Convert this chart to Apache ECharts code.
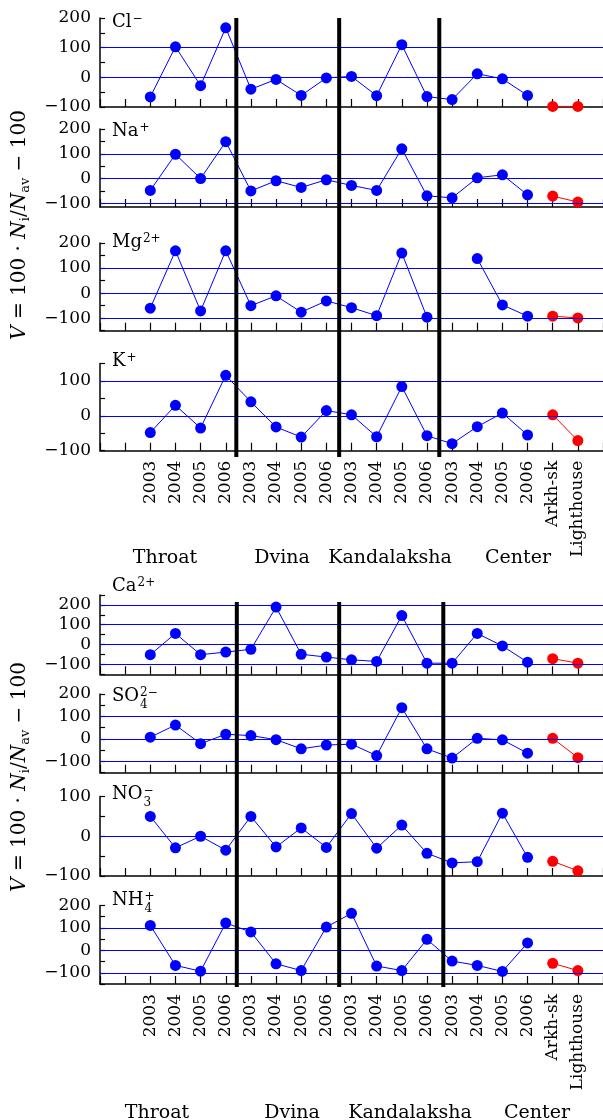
<!DOCTYPE html>
<html><head><meta charset="utf-8">
<script src="https://cdn.jsdelivr.net/npm/echarts@6/dist/echarts.min.js"></script>
<style>html,body{margin:0;padding:0;background:#fff}#c{width:603px;height:1120px}</style>
</head><body><div id="c"></div>
<script>
// ---------- data ----------
const categories = ['2003','2004','2005','2006','2003','2004','2005','2006','2003','2004','2005','2006','2003','2004','2005','2006','Arkh-sk','Lighthouse'];
const regionNames = ['Throat','Dvina','Kandalaksha','Center'];
const clValues  = [-66,103,-28,167,-40,-7,-61,-2,3,-62,110,-65,-75,12,-5,-61,-98,-98];
const naValues  = [-48,98,0,149,-50,-9,-36,-5,-28,-48,120,-70,-78,3,15,-66,-71,-95];
const mgValues  = [-60,169,-71,169,-50,-11,-76,-31,-58,-90,160,-96,null,138,-47,-92,-92,-99];
const kValues   = [-48,30,-35,116,40,-32,-61,15,3,-60,84,-57,-80,-31,8,-55,3,-71];
const caValues  = [-51,56,-51,-38,-24,189,-49,-63,-77,-85,146,-94,-94,56,-7,-89,-71,-94];
const so4Values = [8,62,-21,21,15,-3,-44,-27,-23,-74,139,-44,-85,3,-4,-63,3,-83];
const no3Values = [50,-29,0,-35,50,-27,21,-28,57,-30,28,-43,-67,-64,58,-53,-63,-87];
const nh4Values = [111,-67,-93,122,82,-60,-90,104,165,-70,-90,49,-48,-67,-94,33,-58,-90];
const ionBase = ['Cl','Na','Mg','K','Ca','SO','NO','NH'];
const ionSup  = ['\u2212','+','2+','+','2+','2\u2212','\u2212','+'];
const ionSub  = ['','','','','','4','3','4'];
const yMin = [-100,-115,-150,-100,-150,-150,-100,-150];
const yMax = [200,200,200,150,250,200,100,200];
const separatorsTop = [3.42, 7.51, 11.49];
const separatorsBottom = [3.44, 7.51, 11.65];

// ---------- layout ----------
const FONT = 'DejaVu Serif';
const panelTop    = [18,129,243,363.5,595,694,796.5,905.5];
const panelBottom = [107,207,330.7,450.7,674.3,772.7,876,984];
const titleBaseline = [29,138,249,368,593,703,801,907];
const groupTop = [18,602], groupBottom = [457,987];
const groupLabelY = [558,1113];
const groupLabelX = [[165,282,390,518],[157,292,410,537]];
const yTitleCenter = [225,777];
const BLUE = '#0000ff', RED = '#ff0000';

const allValues = [clValues,naValues,mgValues,kValues,caValues,so4Values,no3Values,nh4Values];
const nBlue = 16;
const fmtNum = v => v < 0 ? '\u2212' + Math.abs(v) : String(v);
const multiples = (lo, hi, step) => { const r=[]; for (let v=Math.ceil(lo/step)*step; v<=hi; v+=step) r.push(v); return r; };

const grids=[], xAxes=[], yAxes=[], series=[], graphic=[];
const ctx = document.createElement('canvas').getContext('2d');

allValues.forEach((vals, p) => {
  grids.push({left:100, right:0, top:panelTop[p], height:panelBottom[p]-panelTop[p]});
  const bottomPanel = (p === 3 || p === 7);
  xAxes.push({
    type:'value', gridIndex:p, min:-2, max:18, interval:1,
    axisLine:{show:true, onZero:false, lineStyle:{color:'#000', width:1.5}},
    axisTick:{show:true, inside:true, length:8, lineStyle:{color:'#000', width:1.2}},
    splitLine:{show:false},
    axisLabel:{show:bottomPanel, rotate:90, margin:10, fontFamily:FONT, fontSize:17, color:'#000',
      formatter: v => (Number.isInteger(v) && v>=0 && v<categories.length) ? categories[v] : ''}
  });
  yAxes.push({
    type:'value', gridIndex:p, min:yMin[p], max:yMax[p],
    axisLine:{show:true, onZero:false, lineStyle:{color:'#000', width:1.5}},
    axisTick:{show:true, inside:true, length:5, lineStyle:{color:'#000', width:1.2},
      customValues: multiples(yMin[p], yMax[p], 50)},
    splitLine:{show:false},
    axisLabel:{margin:9, fontFamily:FONT, fontSize:17, color:'#000',
      customValues: multiples(yMin[p], yMax[p], 100), formatter: v => fmtNum(v)}
  });
  const gridVals = multiples(yMin[p], yMax[p], 100).filter(v => v > yMin[p] && v < yMax[p]);
  series.push({
    type:'line', xAxisIndex:p, yAxisIndex:p, z:2,
    data: vals.slice(0,nBlue).map((v,i)=>[i, v===null ? '-' : v]),
    connectNulls:false, symbol:'circle', symbolSize:11, showSymbol:true,
    itemStyle:{color:BLUE}, lineStyle:{color:BLUE, width:1},
    markLine:{silent:true, symbol:['none','none'], label:{show:false},
      lineStyle:{color:BLUE, width:1, type:'solid'},
      data: gridVals.map(v=>({yAxis:v}))}
  });
  series.push({
    type:'line', xAxisIndex:p, yAxisIndex:p, z:3,
    data: vals.slice(nBlue).map((v,i)=>[nBlue+i, v]),
    symbol:'circle', symbolSize:11, showSymbol:true,
    itemStyle:{color:RED}, lineStyle:{color:RED, width:1}
  });
  // panel title
  const fsMain = 18, fsSmall = 12;
  ctx.font = fsMain + 'px "' + FONT + '"';
  const w = ctx.measureText(ionBase[p]).width;
  const bl = titleBaseline[p];
  graphic.push({type:'text', x:112, y:bl-0.346*fsMain, style:{text:ionBase[p], font:fsMain+'px "'+FONT+'"', fill:'#000', verticalAlign:'middle', align:'left'}});
  if (ionSup[p]) graphic.push({type:'text', x:112+w+1, y:bl-10.5, style:{text:ionSup[p], font:fsSmall+'px "'+FONT+'"', fill:'#000', verticalAlign:'middle', align:'left'}});
  if (ionSub[p]) graphic.push({type:'text', x:112+w+1, y:bl+1.5, style:{text:ionSub[p], font:fsSmall+'px "'+FONT+'"', fill:'#000', verticalAlign:'middle', align:'left'}});
});

// separator overlays
[separatorsTop, separatorsBottom].forEach((seps, g) => {
  const gi = grids.length;
  grids.push({left:100, right:0, top:groupTop[g], height:groupBottom[g]-groupTop[g]});
  xAxes.push({type:'value', gridIndex:gi, min:-2, max:18, show:false});
  yAxes.push({type:'value', gridIndex:gi, min:0, max:1, show:false});
  seps.forEach(s => series.push({type:'line', xAxisIndex:gi, yAxisIndex:gi, z:5, silent:true,
    data:[[s,0],[s,1]], showSymbol:false, symbol:'none', lineStyle:{color:'#000', width:4}}));
  regionNames.forEach((name, r) => graphic.push({type:'text', x:groupLabelX[g][r], y:groupLabelY[g],
    style:{text:name, font:'19px "'+FONT+'"', fill:'#000', align:'center', verticalAlign:'middle'}}));
  graphic.push({type:'text', x:20, y:yTitleCenter[g], rotation:Math.PI/2,
    style:{text:'{it|V} = 100 \u00b7 {it|N}{sub|i}/{it|N}{sub|av} \u2212 100', fontFamily:FONT, fontSize:20, fill:'#000',
      align:'center', verticalAlign:'middle',
      rich:{it:{fontFamily:FONT, fontSize:20, fontStyle:'italic', fill:'#000'},
            sub:{fontFamily:FONT, fontSize:13, fill:'#000', padding:[12,0,0,0]}}}});
});

const chart = echarts.init(document.getElementById('c'), null, {renderer:'canvas'});
chart.setOption({animation:false, backgroundColor:'#fff', grid:grids, xAxis:xAxes, yAxis:yAxes, series:series, graphic:graphic});
</script></body></html>
